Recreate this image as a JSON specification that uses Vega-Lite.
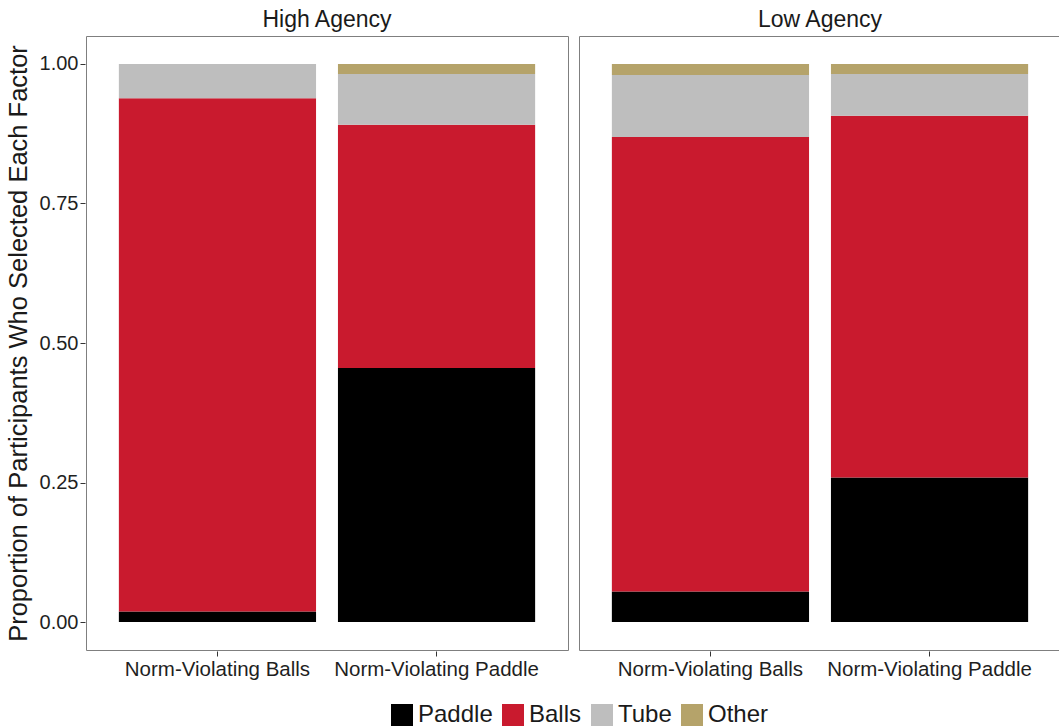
{
  "$schema": "https://vega.github.io/schema/vega-lite/v6.json",
  "padding": {"left": 6, "top": 9, "right": 9, "bottom": 0},
  "background": "white",
  "data": {
    "values": [
      {"agency": "High Agency", "condition": "Norm-Violating Balls", "factor": "Paddle", "proportion": 0.019},
      {"agency": "High Agency", "condition": "Norm-Violating Balls", "factor": "Balls", "proportion": 0.9196},
      {"agency": "High Agency", "condition": "Norm-Violating Balls", "factor": "Tube", "proportion": 0.0614},
      {"agency": "High Agency", "condition": "Norm-Violating Paddle", "factor": "Paddle", "proportion": 0.455},
      {"agency": "High Agency", "condition": "Norm-Violating Paddle", "factor": "Balls", "proportion": 0.436},
      {"agency": "High Agency", "condition": "Norm-Violating Paddle", "factor": "Tube", "proportion": 0.091},
      {"agency": "High Agency", "condition": "Norm-Violating Paddle", "factor": "Other", "proportion": 0.018},
      {"agency": "Low Agency", "condition": "Norm-Violating Balls", "factor": "Paddle", "proportion": 0.055},
      {"agency": "Low Agency", "condition": "Norm-Violating Balls", "factor": "Balls", "proportion": 0.814},
      {"agency": "Low Agency", "condition": "Norm-Violating Balls", "factor": "Tube", "proportion": 0.111},
      {"agency": "Low Agency", "condition": "Norm-Violating Balls", "factor": "Other", "proportion": 0.020},
      {"agency": "Low Agency", "condition": "Norm-Violating Paddle", "factor": "Paddle", "proportion": 0.259},
      {"agency": "Low Agency", "condition": "Norm-Violating Paddle", "factor": "Balls", "proportion": 0.648},
      {"agency": "Low Agency", "condition": "Norm-Violating Paddle", "factor": "Tube", "proportion": 0.075},
      {"agency": "Low Agency", "condition": "Norm-Violating Paddle", "factor": "Other", "proportion": 0.018}
    ]
  },
  "transform": [
    {"calculate": "indexof(['Paddle','Balls','Tube','Other'], datum.factor)", "as": "stackOrder"}
  ],
  "facet": {
    "column": {
      "field": "agency",
      "type": "nominal",
      "sort": ["High Agency", "Low Agency"],
      "header": {
        "title": null,
        "labelFontSize": 23,
        "labelFont": "Liberation Sans",
        "labelColor": "#1a1a1a",
        "labelPadding": 3
      }
    }
  },
  "spacing": 9,
  "spec": {
    "width": 482,
    "height": 614,
    "mark": {"type": "bar"},
    "encoding": {
      "x": {
        "field": "condition",
        "type": "nominal",
        "title": null,
        "sort": ["Norm-Violating Balls", "Norm-Violating Paddle"],
        "scale": {"paddingInner": 0.1, "paddingOuter": 0.15},
        "axis": {"labelAngle": 0, "labelFontSize": 20.5, "labelPadding": 3, "labelLimit": 0}
      },
      "y": {
        "field": "proportion",
        "type": "quantitative",
        "stack": "zero",
        "scale": {"domain": [-0.05, 1.05], "nice": false, "zero": false},
        "axis": {
          "values": [0, 0.25, 0.5, 0.75, 1],
          "format": ".2f",
          "title": "Proportion of Participants Who Selected Each Factor",
          "labelFontSize": 20,
          "titleFontSize": 25.5,
          "titlePadding": 8
        }
      },
      "order": {"field": "stackOrder", "type": "quantitative", "sort": "ascending"},
      "color": {
        "field": "factor",
        "type": "nominal",
        "sort": ["Paddle", "Balls", "Tube", "Other"],
        "scale": {
          "domain": ["Paddle", "Balls", "Tube", "Other"],
          "range": ["#000000", "#C91A2E", "#BEBEBE", "#B5A36A"]
        },
        "legend": {
          "title": null,
          "orient": "none",
          "legendX": 304,
          "legendY": 667,
          "direction": "horizontal",
          "symbolType": "square",
          "symbolSize": 484,
          "symbolStrokeWidth": 0,
          "labelFontSize": 24,
          "labelOffset": 4,
          "columnPadding": 8
        }
      }
    }
  },
  "config": {
    "font": "Liberation Sans",
    "view": {"stroke": "#7f7f7f", "strokeWidth": 1},
    "axis": {
      "domain": false,
      "grid": false,
      "tickColor": "#333333",
      "tickSize": 5,
      "labelColor": "#1f1f1f",
      "titleColor": "#1a1a1a",
      "titleFontWeight": "normal",
      "labelFont": "Liberation Sans",
      "titleFont": "Liberation Sans"
    },
    "legend": {"labelColor": "#1a1a1a", "labelFont": "Liberation Sans"}
  }
}
